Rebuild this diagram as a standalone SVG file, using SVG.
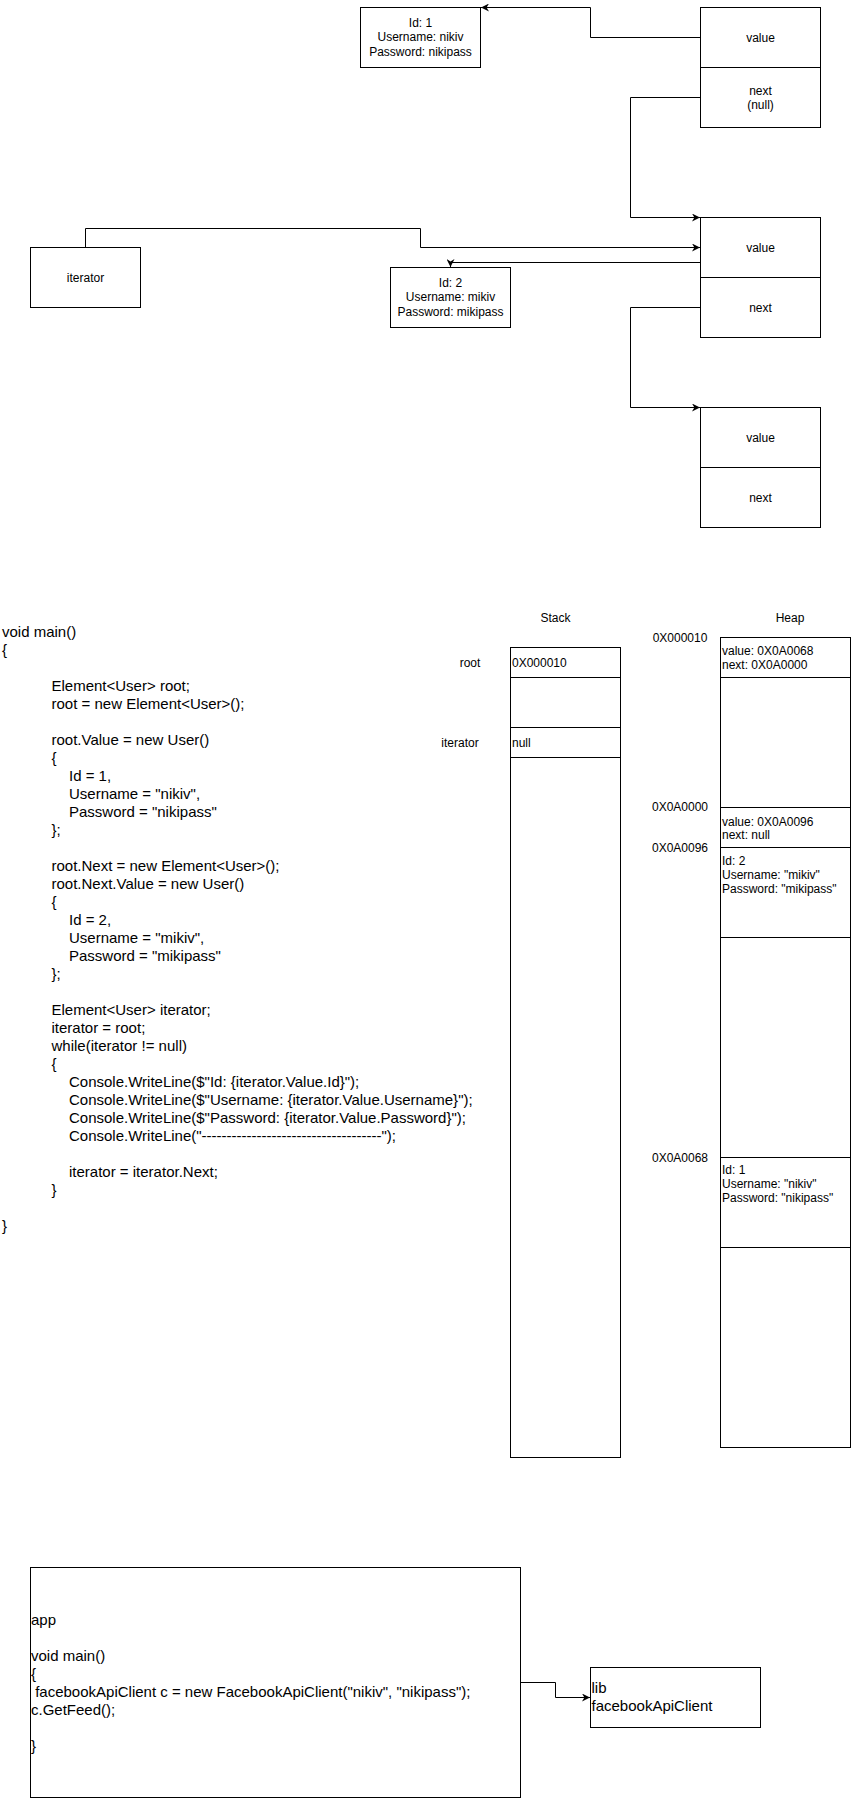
<svg xmlns="http://www.w3.org/2000/svg" width="851" height="1798" viewBox="0 0 851 1798">
<style>
  .box{fill:#fff;stroke:#000;stroke-width:1}
  .ln{fill:none;stroke:#000;stroke-width:1}
  text{font-family:"Liberation Sans",Arial,Helvetica,sans-serif;fill:#000}
  .s{font-size:12px}
  .c{text-anchor:middle}
  .code{font-size:15px}
</style>
<defs>
  <marker id="arr" viewBox="0 0 10 10" refX="10" refY="5" markerWidth="8" markerHeight="8" markerUnits="userSpaceOnUse" orient="auto">
    <path d="M0,0 L10,5 L0,10 L3,5 z" fill="#000"/>
  </marker>
</defs>
<rect width="851" height="1798" fill="#fff"/>

<g id="connectors">
  <path class="ln" d="M700.5,37.5 H590.5 V7.5 H481" marker-end="url(#arr)"/>
  <path class="ln" d="M700.5,97.5 H630.5 V217.5 H700" marker-end="url(#arr)"/>
  <path class="ln" d="M85.5,247.5 V228.5 H420.5 V247.5 H700" marker-end="url(#arr)"/>
  <path class="ln" d="M700.5,262.5 H450.5 V267" marker-end="url(#arr)"/>
  <path class="ln" d="M700.5,307.5 H630.5 V407.5 H700" marker-end="url(#arr)"/>
  <path class="ln" d="M520.5,1682.5 H555.5 V1697.5 H590" marker-end="url(#arr)"/>
</g>

<g id="user1">
  <rect class="box" x="360.5" y="7.5" width="120" height="60"/>
  <text class="s c" x="420.5" y="27">Id: 1</text>
  <text class="s c" x="420.5" y="41.4">Username: nikiv</text>
  <text class="s c" x="420.5" y="55.8">Password: nikipass</text>
</g>
<g id="element1">
  <rect class="box" x="700.5" y="7.5" width="120" height="60"/>
  <text class="s c" x="760.5" y="41.7">value</text>
  <rect class="box" x="700.5" y="67.5" width="120" height="60"/>
  <text class="s c" x="760.5" y="94.5">next</text>
  <text class="s c" x="760.5" y="108.9">(null)</text>
</g>
<g id="iterator">
  <rect class="box" x="30.5" y="247.5" width="110" height="60"/>
  <text class="s c" x="85.5" y="281.7">iterator</text>
</g>
<g id="element2">
  <rect class="box" x="700.5" y="217.5" width="120" height="60"/>
  <text class="s c" x="760.5" y="251.7">value</text>
  <rect class="box" x="700.5" y="277.5" width="120" height="60"/>
  <text class="s c" x="760.5" y="311.7">next</text>
</g>
<g id="user2">
  <rect class="box" x="390.5" y="267.5" width="120" height="60"/>
  <text class="s c" x="450.5" y="287">Id: 2</text>
  <text class="s c" x="450.5" y="301.4">Username: mikiv</text>
  <text class="s c" x="450.5" y="315.8">Password: mikipass</text>
</g>
<g id="element3">
  <rect class="box" x="700.5" y="407.5" width="120" height="60"/>
  <text class="s c" x="760.5" y="441.7">value</text>
  <rect class="box" x="700.5" y="467.5" width="120" height="60"/>
  <text class="s c" x="760.5" y="501.7">next</text>
</g>

<g id="code">
  <text class="code" x="2" y="637.3">void main()</text>
  <text class="code" x="2" y="655.3">{</text>
  <text class="code" x="51.5" y="691.3">Element&lt;User&gt; root;</text>
  <text class="code" x="51.5" y="709.3">root = new Element&lt;User&gt;();</text>
  <text class="code" x="51.5" y="745.3">root.Value = new User()</text>
  <text class="code" x="51.5" y="763.3">{</text>
  <text class="code" x="69" y="781.3">Id = 1,</text>
  <text class="code" x="69" y="799.3">Username = "nikiv",</text>
  <text class="code" x="69" y="817.3">Password = "nikipass"</text>
  <text class="code" x="51.5" y="835.3">};</text>
  <text class="code" x="51.5" y="871.3">root.Next = new Element&lt;User&gt;();</text>
  <text class="code" x="51.5" y="889.3">root.Next.Value = new User()</text>
  <text class="code" x="51.5" y="907.3">{</text>
  <text class="code" x="69" y="925.3">Id = 2,</text>
  <text class="code" x="69" y="943.3">Username = "mikiv",</text>
  <text class="code" x="69" y="961.3">Password = "mikipass"</text>
  <text class="code" x="51.5" y="979.3">};</text>
  <text class="code" x="51.5" y="1015.3">Element&lt;User&gt; iterator;</text>
  <text class="code" x="51.5" y="1033.3">iterator = root;</text>
  <text class="code" x="51.5" y="1051.3">while(iterator != null)</text>
  <text class="code" x="51.5" y="1069.3">{</text>
  <text class="code" x="69" y="1087.3">Console.WriteLine($"Id: {iterator.Value.Id}");</text>
  <text class="code" x="69" y="1105.3">Console.WriteLine($"Username: {iterator.Value.Username}");</text>
  <text class="code" x="69" y="1123.3">Console.WriteLine($"Password: {iterator.Value.Password}");</text>
  <text class="code" x="69" y="1141.3">Console.WriteLine("------------------------------------");</text>
  <text class="code" x="69" y="1177.3">iterator = iterator.Next;</text>
  <text class="code" x="51.5" y="1195.3">}</text>
  <text class="code" x="2" y="1231.3">}</text>
</g>

<g id="stack">
  <text class="s c" x="555.5" y="621.5">Stack</text>
  <rect class="box" x="510.5" y="647.5" width="110" height="810"/>
  <path class="ln" d="M510.5,677.5 H620.5 M510.5,727.5 H620.5 M510.5,757.5 H620.5"/>
  <text class="s" x="512" y="666.5">0X000010</text>
  <text class="s" x="512" y="746.8">null</text>
  <text class="s c" x="470" y="666.5">root</text>
  <text class="s c" x="460" y="746.8">iterator</text>
</g>

<g id="heap">
  <text class="s c" x="790" y="621.5">Heap</text>
  <rect class="box" x="720.5" y="637.5" width="130" height="810"/>
  <path class="ln" d="M720.5,677.5 H850.5 M720.5,807.5 H850.5 M720.5,847.5 H850.5 M720.5,937.5 H850.5 M720.5,1157.5 H850.5 M720.5,1247.5 H850.5"/>
  <text class="s" x="722" y="655">value: 0X0A0068</text>
  <text class="s" x="722" y="668.6">next: 0X0A0000</text>
  <text class="s" x="722" y="826">value: 0X0A0096</text>
  <text class="s" x="722" y="839.4">next: null</text>
  <text class="s" x="722" y="865.2">Id: 2</text>
  <text class="s" x="722" y="879">Username: "mikiv"</text>
  <text class="s" x="722" y="892.6">Password: "mikipass"</text>
  <text class="s" x="722" y="1174.2">Id: 1</text>
  <text class="s" x="722" y="1188">Username: "nikiv"</text>
  <text class="s" x="722" y="1201.6">Password: "nikipass"</text>
  <text class="s c" x="680" y="642.2">0X000010</text>
  <text class="s c" x="680" y="811.4">0X0A0000</text>
  <text class="s c" x="680" y="852">0X0A0096</text>
  <text class="s c" x="680" y="1162">0X0A0068</text>
</g>

<g id="app">
  <rect class="box" x="30.5" y="1567.5" width="490" height="230"/>
  <text class="code" x="31" y="1625.3">app</text>
  <text class="code" x="31" y="1661.3">void main()</text>
  <text class="code" x="31" y="1679.3">{</text>
  <text class="code" x="31" y="1697.3" xml:space="preserve"> facebookApiClient c = new FacebookApiClient("nikiv", "nikipass");</text>
  <text class="code" x="31" y="1715.3">c.GetFeed();</text>
  <text class="code" x="31" y="1751.3">}</text>
</g>

<g id="lib">
  <rect class="box" x="590.5" y="1667.5" width="170" height="60"/>
  <text class="code" x="591.5" y="1693.3">lib</text>
  <text class="code" x="591.5" y="1711.3">facebookApiClient</text>
</g>
</svg>
